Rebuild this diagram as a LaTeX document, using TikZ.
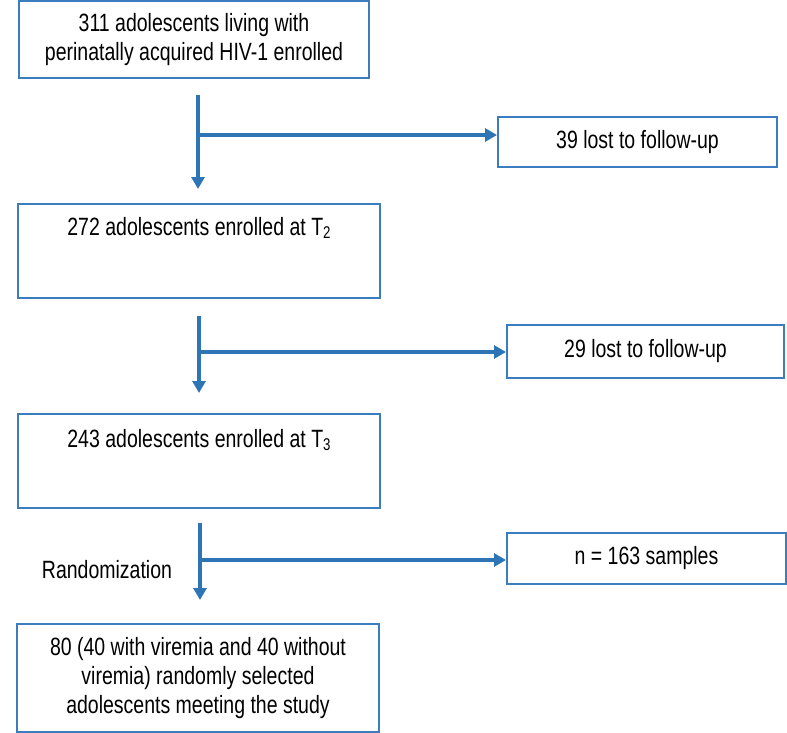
\documentclass[tikz,border=0pt]{standalone}
\usepackage{fontspec}
\setmainfont{Liberation Sans}[FakeStretch=0.78]
\usetikzlibrary{arrows.meta}
\definecolor{arrblue}{HTML}{2E75B6}
\definecolor{boxblue}{HTML}{3B7DBF}
\tikzset{
  box/.style={draw=boxblue, line width=2pt, inner sep=0pt, align=center,
    font=\fontsize{25pt}{29pt}\selectfont},
  flow/.style={draw=arrblue, line width=3.5pt},
  flowarr/.style={flow, -{Triangle[width=13pt,length=12pt]}},
}
\newcommand{\subsc}[1]{\raisebox{-3pt}{\fontsize{17pt}{17pt}\selectfont #1}}
\begin{document}
\begin{tikzpicture}[x=1pt,y=-1pt]
\useasboundingbox (0,0) rectangle (787,733);
% main boxes
\node[box, minimum width=350pt, minimum height=77pt] (b1) at (194,40)
  {311 adolescents living with\\perinatally acquired HIV-1 enrolled};
\node[box, minimum width=362pt, minimum height=94pt, anchor=north] (b2) at (199,203)
  {\parbox[c][94pt][t]{362pt}{\centering\fontsize{25pt}{29pt}\selectfont\vspace*{13pt}272 adolescents enrolled at T\subsc{2}}};
\node[box, minimum width=362pt, minimum height=94pt, anchor=north] (b3) at (199,413)
  {\parbox[c][94pt][t]{362pt}{\centering\fontsize{25pt}{29pt}\selectfont\vspace*{15pt}243 adolescents enrolled at T\subsc{3}}};
\node[box, minimum width=362pt, minimum height=108pt] (b4) at (198,678)
  {80 (40 with viremia and 40 without\\viremia) randomly selected\\adolescents meeting the study};
% side boxes
\node[box, minimum width=279pt, minimum height=50pt] (l1) at (637.5,142) {39 lost to follow-up};
\node[box, minimum width=277pt, minimum height=53pt] (l2) at (645.5,351.5) {29 lost to follow-up};
\node[box, minimum width=279pt, minimum height=51pt] (l3) at (646.5,558.5) {n = 163 samples};
% label
\node[font=\fontsize{25pt}{29pt}\selectfont, inner sep=0pt] (rand) at (107,570) {Randomization};
% connector coordinates
\coordinate (s1) at (198,95);  \coordinate (e1) at (198,189); \coordinate (j1) at (198,135);
\coordinate (s2) at (199,316); \coordinate (e2) at (199,393); \coordinate (j2) at (199,352);
\coordinate (s3) at (200,523); \coordinate (e3) at (200,600); \coordinate (j3) at (200,560);
% connectors
\draw[flowarr] (s1) -- (e1);
\draw[flowarr] (j1) -- (l1.west |- j1);
\draw[flowarr] (s2) -- (e2);
\draw[flowarr] (j2) -- (l2.west |- j2);
\draw[flowarr] (s3) -- (e3);
\draw[flowarr] (j3) -- (l3.west |- j3);
\end{tikzpicture}
\end{document}
